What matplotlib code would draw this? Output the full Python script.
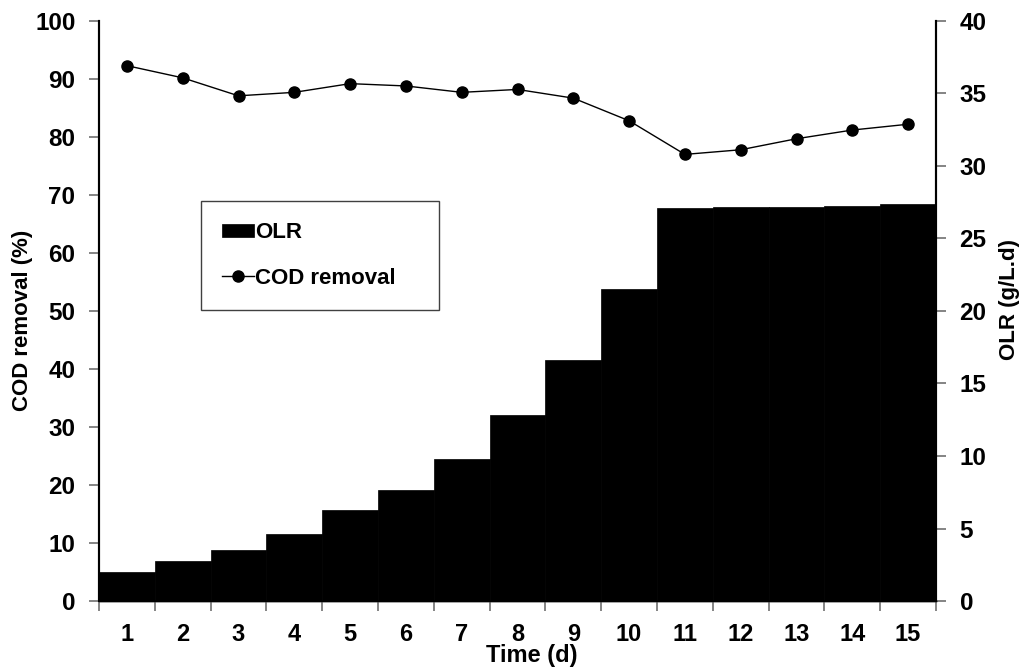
import matplotlib
matplotlib.use("Agg")
import matplotlib.pyplot as plt
from matplotlib.ticker import FixedLocator, NullFormatter

plt.rcParams['font.family'] = ['Liberation Sans', 'DejaVu Sans']
plt.rcParams['font.weight'] = 'bold'

days = list(range(1, 16))
day_labels = [str(d) for d in days]
olr = [2.0, 2.75, 3.55, 4.6, 6.3, 7.65, 9.8, 12.8, 16.6, 21.5, 27.1, 27.15, 27.2, 27.25, 27.4]
cod_removal = [92.3, 90.2, 87.1, 87.7, 89.2, 88.8, 87.7, 88.2, 86.7, 82.8, 77.0, 77.8, 79.7, 81.2, 82.2]

fig = plt.figure(figsize=(10.29, 6.68), dpi=100)
ax = fig.add_axes([99/1029, 1-601/668, 837/1029, 580/668])
ax2 = ax.twinx()

bars = ax2.bar(days, olr, width=1.0, color='black', edgecolor='black', linewidth=0.5, label='OLR')
line, = ax.plot(days, cod_removal, color='black', linewidth=1.0, marker='o',
                markersize=8, label='COD removal')

ax.set_zorder(ax2.get_zorder() + 1)
ax.patch.set_visible(False)

ax.set_xlim(0.5, 15.5)
ax.set_ylim(0, 100)
ax2.set_ylim(0, 40)

ax.set_yticks(range(0, 101, 10))
ax2.set_yticks(range(0, 41, 5))

# x: major ticks at category boundaries, labels at category centres
ax.xaxis.set_major_locator(FixedLocator([d - 0.5 for d in days] + [15.5]))
ax.xaxis.set_major_formatter(NullFormatter())
ax.xaxis.set_minor_locator(FixedLocator(days))
ax.set_xticklabels(day_labels, minor=True)
ax.tick_params(axis='x', which='minor', length=0, pad=15.5, labelsize=17)
ax.tick_params(axis='x', which='major', length=7, width=1.2, color='#707070', direction='out')

ax.tick_params(axis='y', length=7, width=1.2, color='#707070', direction='out', pad=10, labelsize=17.5)
ax2.tick_params(axis='y', length=7, width=1.2, color='#707070', direction='out', pad=10, labelsize=17.5)

for a in (ax, ax2):
    a.spines['top'].set_visible(False)
    a.spines['left'].set_linewidth(1.5)
    a.spines['right'].set_linewidth(1.5)
    a.spines['bottom'].set_linewidth(1.0)

ax.set_ylabel('COD removal (%)', fontsize=16, fontweight='bold')
ax.yaxis.set_label_coords(-0.079, 0.484)
ax2.set_ylabel('OLR (g/L.d)', fontsize=16, fontweight='bold')
ax2.yaxis.set_label_coords(1.075, 0.519)
ax.set_xlabel('Time (d)', fontsize=17, fontweight='bold')
ax.xaxis.set_label_coords(0.517, -0.074)

x0 = (201 - 99) / 837
y1 = (601 - 201) / 580
w = 238 / 837
leg = ax.legend([bars, line], ['OLR', 'COD removal'], loc='upper left',
                bbox_to_anchor=(x0, y1 - 0.2, w, 0.2), mode='expand',
                borderaxespad=0, fontsize=16, frameon=True, fancybox=False,
                edgecolor='#404040', framealpha=1, handlelength=1.45,
                handletextpad=0.05, labelspacing=1.1, borderpad=0.95,
                handleheight=0.5)
leg.get_frame().set_linewidth(1.0)

fig.savefig('out.png', dpi=100)
